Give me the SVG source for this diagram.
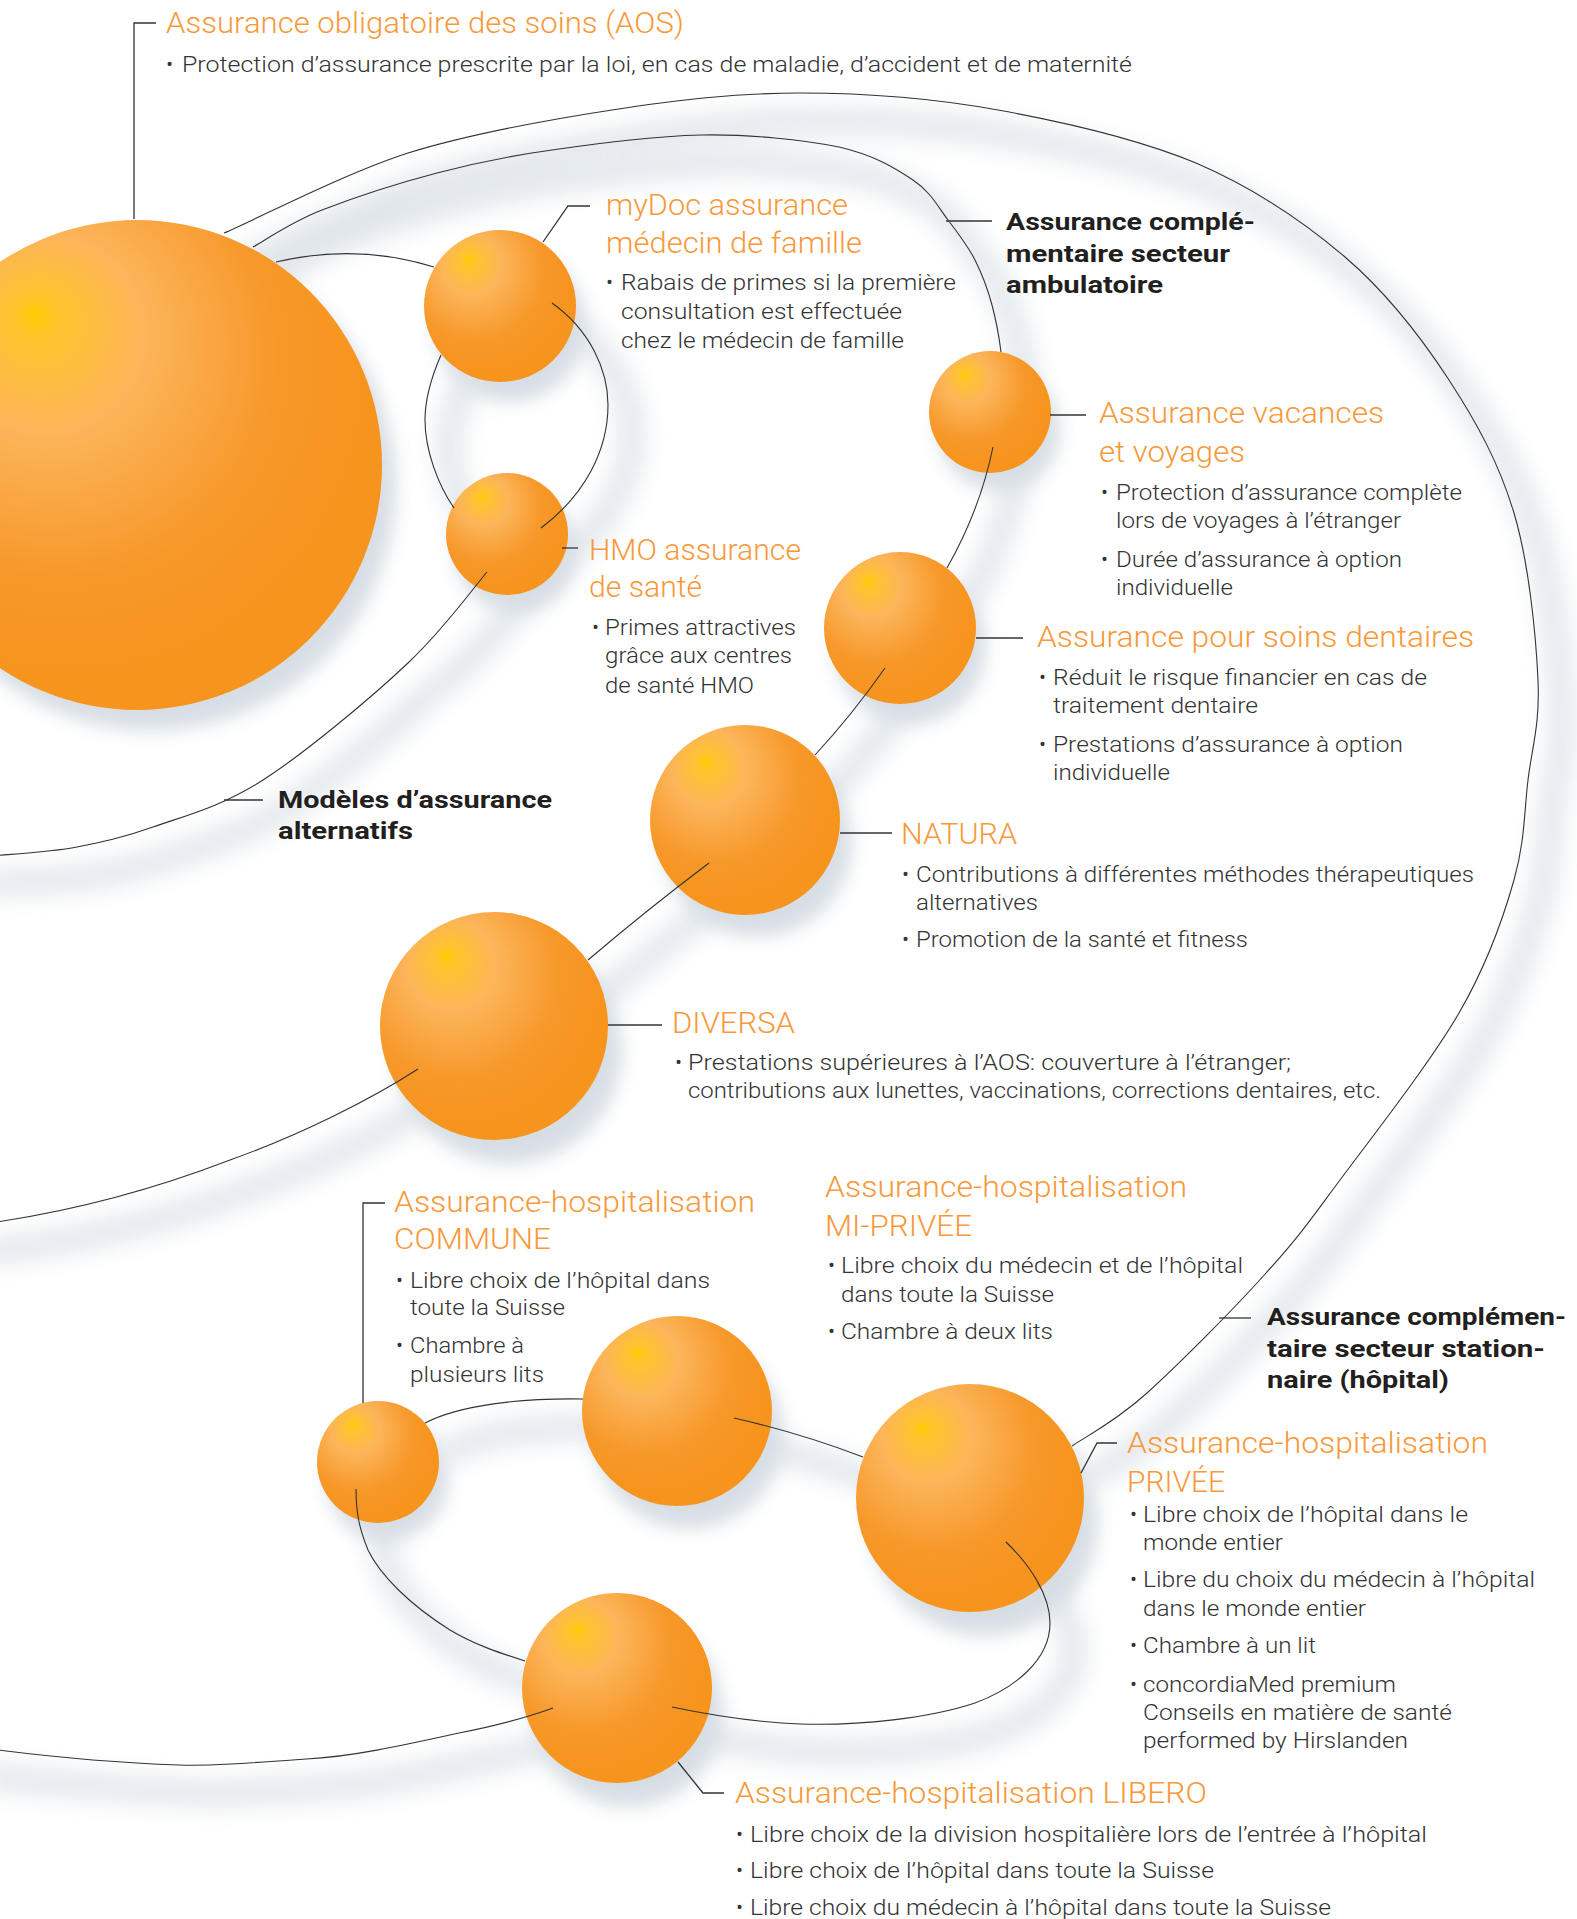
<svg xmlns="http://www.w3.org/2000/svg" width="1577" height="1919" viewBox="0 0 1577 1919">
<defs>
<radialGradient id="ball" cx="0.36" cy="0.32" r="0.62" fx="0.29" fy="0.19">
<stop offset="0" stop-color="#ffcc00"/>
<stop offset="0.07" stop-color="#fec42c"/>
<stop offset="0.32" stop-color="#fcb55a"/>
<stop offset="0.72" stop-color="#f7982a"/>
<stop offset="1" stop-color="#f7941d"/>
</radialGradient>
<filter id="sb" filterUnits="userSpaceOnUse" x="-200" y="-200" width="2000" height="2400"><feGaussianBlur stdDeviation="12"/></filter>
<filter id="sb2" filterUnits="userSpaceOnUse" x="-200" y="-200" width="2000" height="2400"><feGaussianBlur stdDeviation="9"/></filter>
<style>
.t{font-family:Roboto,"Liberation Sans",sans-serif;font-weight:300;font-size:30px;fill:#f7993a}
.b{font-family:Roboto,"Liberation Sans",sans-serif;font-weight:300;font-size:21.5px;fill:#333}
.k{font-family:Roboto,"Liberation Sans",sans-serif;font-weight:700;font-size:24px;fill:#231f20}
.ln{fill:none;stroke:#333;stroke-width:1.1}
.ld{fill:none;stroke:#333;stroke-width:1.3}
.sh{fill:none;stroke:#d5dde4;stroke-width:24;stroke-linecap:round}
.bs{fill:#c9d3dc}
.o{fill:url(#ball)}
</style>
</defs>
<rect width="1577" height="1919" fill="#fff"/>

<g id="shadows" opacity="0.75">
<g filter="url(#sb)" transform="translate(24,28)">
<path class="sh" d="M224,233 C255,220 343,174 408,153 C473,133 547,120 612,110 C677,100 736,93 800,93 C864,93 932,98 998,110 C1064,122 1138,139 1196,163 C1254,188 1303,221 1345,257 C1387,293 1421,337 1449,380 C1477,423 1499,463 1514,513 C1529,563 1536,636 1538,680 C1540,725 1532,747 1528,780 C1524,813 1525,841 1514,880 C1503,919 1488,963 1459,1013 C1430,1063 1372,1137 1340,1180 C1308,1223 1298,1238 1266,1273 C1234,1309 1179,1364 1147,1393 C1115,1422 1085,1437 1072,1446"/>
<path class="sh" d="M253,247 C264,241 291,222 322,210 C353,198 399,183 437,173 C475,163 508,156 552,150 C596,144 653,136 701,135 C749,134 804,140 839,147 C874,155 895,168 913,180 C931,192 938,207 948,220 C958,233 968,246 975,260 C982,274 988,290 992,305 C996,320 1000,344 1001,352"/>
<path class="sh" d="M441,355 C431,378 425,400 425,420 C425,450 438,485 454,508 M552,303 C590,330 608,370 608,405 C608,450 585,495 541,528"/>
<path class="sh" d="M520,540 C480,600 440,640 408,663 C371,698 305,753 263,780 C221,807 184,816 153,827 C122,838 102,842 77,847 C52,852 13,854 -30,856"/>
<path class="sh" d="M993,447 Q980,510 947,568 L885,668 Q852,715 815,755 L709,863 Q648,909 588,960 L418,1069 C370,1100 300,1135 230,1160 C160,1187 80,1210 -30,1223"/>
<path class="sh" d="M356,1489 C356,1515 360,1530 368,1550 C380,1575 410,1605 450,1630 C475,1645 500,1653 525,1661"/>
<path class="sh" d="M425,1423 C460,1405 520,1398 583,1399 L734,1418 Q800,1433 863,1457 L1006,1542 C1030,1565 1050,1595 1050,1623 C1050,1660 1015,1688 975,1703 C930,1718 860,1726 800,1724 C750,1722 710,1715 672,1707 L553,1708 C520,1720 490,1727 459,1733 C400,1746 350,1757 306,1759 C250,1763 210,1766 179,1765 C120,1763 60,1758 -30,1749"/>
</g>
<g filter="url(#sb2)">
<circle class="bs" cx="151" cy="486" r="245"/>
<circle class="bs" cx="510" cy="326" r="76"/>
<circle class="bs" cx="516" cy="552" r="61"/>
<circle class="bs" cx="999" cy="430" r="61"/>
<circle class="bs" cx="910" cy="648" r="76"/>
<circle class="bs" cx="757" cy="842" r="95"/>
<circle class="bs" cx="508" cy="1050" r="114"/>
<circle class="bs" cx="387" cy="1480" r="61"/>
<circle class="bs" cx="688" cy="1434" r="95"/>
<circle class="bs" cx="984" cy="1522" r="114"/>
<circle class="bs" cx="628" cy="1712" r="95"/>
</g>
</g>

<g id="balls">
<circle id="ball-aos" class="o" cx="137" cy="465" r="245"/>
<circle id="ball-mydoc" class="o" cx="500" cy="306" r="76"/>
<circle id="ball-hmo" class="o" cx="507" cy="534" r="61"/>
<circle id="ball-vacances" class="o" cx="990" cy="412" r="61"/>
<circle id="ball-dentaires" class="o" cx="900" cy="628" r="76"/>
<circle id="ball-natura" class="o" cx="745" cy="820" r="95"/>
<circle id="ball-diversa" class="o" cx="494" cy="1026" r="114"/>
<circle id="ball-commune" class="o" cx="378" cy="1462" r="61"/>
<circle id="ball-miprivee" class="o" cx="677" cy="1411" r="95"/>
<circle id="ball-privee" class="o" cx="970" cy="1498" r="114"/>
<circle id="ball-libero" class="o" cx="617" cy="1688" r="95"/>
</g>

<g id="connectors">
<path class="ln" d="M224,233 C255,220 343,174 408,153 C473,133 547,120 612,110 C677,100 736,93 800,93 C864,93 932,98 998,110 C1064,122 1138,139 1196,163 C1254,188 1303,221 1345,257 C1387,293 1421,337 1449,380 C1477,423 1499,463 1514,513 C1529,563 1536,636 1538,680 C1540,725 1532,747 1528,780 C1524,813 1525,841 1514,880 C1503,919 1488,963 1459,1013 C1430,1063 1372,1137 1340,1180 C1308,1223 1298,1238 1266,1273 C1234,1309 1179,1364 1147,1393 C1115,1422 1085,1437 1072,1446"/>
<path class="ln" d="M253,247 C264,241 291,222 322,210 C353,198 399,183 437,173 C475,163 508,156 552,150 C596,144 653,136 701,135 C749,134 804,140 839,147 C874,155 895,168 913,180 C931,192 938,207 948,220 C958,233 968,246 975,260 C982,274 988,290 992,305 C996,320 1000,344 1001,352"/>
<path class="ln" d="M276,262 Q357,243 434,267"/>
<path class="ln" d="M441,355 C431,378 425,400 425,420 C425,450 438,485 454,508"/>
<path class="ln" d="M552,303 C590,330 608,370 608,405 C608,450 585,495 541,528"/>
<path class="ln" d="M487,572 C474,587 445,628 408,663 C371,698 305,753 263,780 C221,807 184,816 153,827 C122,838 102,842 77,847 C52,852 13,854 -10,856"/>
<path class="ln" d="M993,447 Q980,510 947,568"/>
<path class="ln" d="M885,668 Q852,715 815,755"/>
<path class="ln" d="M709,863 Q648,909 588,960"/>
<path class="ln" d="M418,1069 C370,1100 300,1135 230,1160 C160,1187 80,1210 -10,1223"/>
<path class="ln" d="M425,1423 C460,1405 520,1398 583,1399"/>
<path class="ln" d="M734,1418 Q800,1433 863,1457"/>
<path class="ln" d="M1006,1542 C1030,1565 1050,1595 1050,1623 C1050,1660 1015,1688 975,1703 C930,1718 860,1726 800,1724 C750,1722 710,1715 672,1707"/>
<path class="ln" d="M553,1708 C520,1720 490,1727 459,1733 C400,1746 350,1757 306,1759 C250,1763 210,1766 179,1765 C120,1763 60,1758 -10,1749"/>
<path class="ln" d="M356,1489 C356,1515 360,1530 368,1550 C380,1575 410,1605 450,1630 C475,1645 500,1653 525,1661"/>
<path class="ld" d="M156,23 H134 V219"/>
<path class="ld" d="M543,242 L568,206 H590"/>
<path class="ld" d="M562,548 H578"/>
<path class="ld" d="M1050,415 H1086"/>
<path class="ld" d="M976,638 H1023"/>
<path class="ld" d="M840,833 H892"/>
<path class="ld" d="M608,1025 H662"/>
<path class="ld" d="M385,1203 H363 V1403"/>
<path class="ld" d="M1219,1318 H1251"/>
<path class="ld" d="M1081,1473 L1097,1443 H1117"/>
<path class="ld" d="M678,1762 L703,1793 H724"/>
<path class="ld" d="M946,221 H992"/>
<path class="ld" d="M224,800 H263"/>
</g>

<g id="node-aos">
<text class="t" x="166" y="33" textLength="518" lengthAdjust="spacingAndGlyphs">Assurance obligatoire des soins (AOS)</text>
<text class="b" x="166" y="72" style="font-size:22px">•</text>
<text class="b" x="182" y="72" style="font-size:22px" textLength="950" lengthAdjust="spacingAndGlyphs">Protection d’assurance prescrite par la loi, en cas de maladie, d’accident et de maternité</text>
</g>

<g id="node-mydoc">
<text class="t" x="606" y="215" textLength="242" lengthAdjust="spacingAndGlyphs">myDoc assurance</text>
<text class="t" x="606" y="253" textLength="256" lengthAdjust="spacingAndGlyphs">médecin de famille</text>
<text class="b" x="606" y="290">•</text>
<text class="b" x="621" y="290" textLength="335" lengthAdjust="spacingAndGlyphs">Rabais de primes si la première</text>
<text class="b" x="621" y="319" textLength="281" lengthAdjust="spacingAndGlyphs">consultation est effectuée</text>
<text class="b" x="621" y="348" textLength="283" lengthAdjust="spacingAndGlyphs">chez le médecin de famille</text>
</g>

<g id="label-ambulatoire">
<text class="k" x="1006" y="230" textLength="249" lengthAdjust="spacingAndGlyphs">Assurance complé-</text>
<text class="k" x="1006" y="262" textLength="224" lengthAdjust="spacingAndGlyphs">mentaire secteur</text>
<text class="k" x="1006" y="293" textLength="157" lengthAdjust="spacingAndGlyphs">ambulatoire</text>
</g>

<g id="node-hmo">
<text class="t" x="589" y="560" textLength="212" lengthAdjust="spacingAndGlyphs">HMO assurance</text>
<text class="t" x="589" y="597" textLength="113" lengthAdjust="spacingAndGlyphs">de santé</text>
<text class="b" x="592" y="635">•</text>
<text class="b" x="605" y="635" textLength="191" lengthAdjust="spacingAndGlyphs">Primes attractives</text>
<text class="b" x="605" y="663" textLength="187" lengthAdjust="spacingAndGlyphs">grâce aux centres</text>
<text class="b" x="605" y="693" textLength="149" lengthAdjust="spacingAndGlyphs">de santé HMO</text>
</g>

<g id="node-vacances">
<text class="t" x="1099" y="423" textLength="285" lengthAdjust="spacingAndGlyphs">Assurance vacances</text>
<text class="t" x="1099" y="462" textLength="146" lengthAdjust="spacingAndGlyphs">et voyages</text>
<text class="b" x="1101" y="500">•</text>
<text class="b" x="1116" y="500" textLength="346" lengthAdjust="spacingAndGlyphs">Protection d’assurance complète</text>
<text class="b" x="1116" y="528" textLength="285" lengthAdjust="spacingAndGlyphs">lors de voyages à l’étranger</text>
<text class="b" x="1101" y="567">•</text>
<text class="b" x="1116" y="567" textLength="286" lengthAdjust="spacingAndGlyphs">Durée d’assurance à option</text>
<text class="b" x="1116" y="595" textLength="117" lengthAdjust="spacingAndGlyphs">individuelle</text>
</g>

<g id="node-dentaires">
<text class="t" x="1037" y="647" textLength="437" lengthAdjust="spacingAndGlyphs">Assurance pour soins dentaires</text>
<text class="b" x="1039" y="685">•</text>
<text class="b" x="1053" y="685" textLength="374" lengthAdjust="spacingAndGlyphs">Réduit le risque financier en cas de</text>
<text class="b" x="1053" y="713" textLength="205" lengthAdjust="spacingAndGlyphs">traitement dentaire</text>
<text class="b" x="1039" y="752">•</text>
<text class="b" x="1053" y="752" textLength="350" lengthAdjust="spacingAndGlyphs">Prestations d’assurance à option</text>
<text class="b" x="1053" y="780" textLength="117" lengthAdjust="spacingAndGlyphs">individuelle</text>
</g>

<g id="label-alternatifs">
<text class="k" x="278" y="808" textLength="274" lengthAdjust="spacingAndGlyphs">Modèles d’assurance</text>
<text class="k" x="278" y="839" textLength="135" lengthAdjust="spacingAndGlyphs">alternatifs</text>
</g>

<g id="node-natura">
<text class="t" x="901" y="844" textLength="116" lengthAdjust="spacingAndGlyphs">NATURA</text>
<text class="b" x="902" y="882">•</text>
<text class="b" x="916" y="882" textLength="558" lengthAdjust="spacingAndGlyphs">Contributions à différentes méthodes thérapeutiques</text>
<text class="b" x="916" y="910" textLength="122" lengthAdjust="spacingAndGlyphs">alternatives</text>
<text class="b" x="902" y="947">•</text>
<text class="b" x="916" y="947" textLength="332" lengthAdjust="spacingAndGlyphs">Promotion de la santé et fitness</text>
</g>

<g id="node-diversa">
<text class="t" x="672" y="1033" textLength="123" lengthAdjust="spacingAndGlyphs">DIVERSA</text>
<text class="b" x="675" y="1070">•</text>
<text class="b" x="688" y="1070" textLength="603" lengthAdjust="spacingAndGlyphs">Prestations supérieures à l’AOS: couverture à l’étranger;</text>
<text class="b" x="688" y="1098" textLength="693" lengthAdjust="spacingAndGlyphs">contributions aux lunettes, vaccinations, corrections dentaires, etc.</text>
</g>

<g id="node-commune">
<text class="t" x="394" y="1212" textLength="361" lengthAdjust="spacingAndGlyphs">Assurance-hospitalisation</text>
<text class="t" x="394" y="1249" textLength="157" lengthAdjust="spacingAndGlyphs">COMMUNE</text>
<text class="b" x="396" y="1288">•</text>
<text class="b" x="410" y="1288" textLength="300" lengthAdjust="spacingAndGlyphs">Libre choix de l’hôpital dans</text>
<text class="b" x="410" y="1315" textLength="155" lengthAdjust="spacingAndGlyphs">toute la Suisse</text>
<text class="b" x="396" y="1353">•</text>
<text class="b" x="410" y="1353" textLength="114" lengthAdjust="spacingAndGlyphs">Chambre à</text>
<text class="b" x="410" y="1382" textLength="134" lengthAdjust="spacingAndGlyphs">plusieurs lits</text>
</g>

<g id="node-miprivee">
<text class="t" x="825" y="1197" textLength="362" lengthAdjust="spacingAndGlyphs">Assurance-hospitalisation</text>
<text class="t" x="825" y="1236" textLength="147" lengthAdjust="spacingAndGlyphs">MI-PRIVÉE</text>
<text class="b" x="828" y="1273">•</text>
<text class="b" x="841" y="1273" textLength="402" lengthAdjust="spacingAndGlyphs">Libre choix du médecin et de l’hôpital</text>
<text class="b" x="841" y="1302" textLength="213" lengthAdjust="spacingAndGlyphs">dans toute la Suisse</text>
<text class="b" x="828" y="1339">•</text>
<text class="b" x="841" y="1339" textLength="212" lengthAdjust="spacingAndGlyphs">Chambre à deux lits</text>
</g>

<g id="label-stationnaire">
<text class="k" x="1267" y="1325" textLength="299" lengthAdjust="spacingAndGlyphs">Assurance complémen-</text>
<text class="k" x="1267" y="1357" textLength="278" lengthAdjust="spacingAndGlyphs">taire secteur station-</text>
<text class="k" x="1267" y="1388" textLength="182" lengthAdjust="spacingAndGlyphs">naire (hôpital)</text>
</g>

<g id="node-privee">
<text class="t" x="1127" y="1453" textLength="361" lengthAdjust="spacingAndGlyphs">Assurance-hospitalisation</text>
<text class="t" x="1127" y="1492" textLength="98" lengthAdjust="spacingAndGlyphs">PRIVÉE</text>
<text class="b" x="1130" y="1522">•</text>
<text class="b" x="1143" y="1522" textLength="325" lengthAdjust="spacingAndGlyphs">Libre choix de l’hôpital dans le</text>
<text class="b" x="1143" y="1550" textLength="140" lengthAdjust="spacingAndGlyphs">monde entier</text>
<text class="b" x="1130" y="1587">•</text>
<text class="b" x="1143" y="1587" textLength="392" lengthAdjust="spacingAndGlyphs">Libre du choix du médecin à l’hôpital</text>
<text class="b" x="1143" y="1616" textLength="223" lengthAdjust="spacingAndGlyphs">dans le monde entier</text>
<text class="b" x="1130" y="1653">•</text>
<text class="b" x="1143" y="1653" textLength="173" lengthAdjust="spacingAndGlyphs">Chambre à un lit</text>
<text class="b" x="1130" y="1692">•</text>
<text class="b" x="1143" y="1692" textLength="253" lengthAdjust="spacingAndGlyphs">concordiaMed premium</text>
<text class="b" x="1143" y="1720" textLength="309" lengthAdjust="spacingAndGlyphs">Conseils en matière de santé</text>
<text class="b" x="1143" y="1748" textLength="265" lengthAdjust="spacingAndGlyphs">performed by Hirslanden</text>
</g>

<g id="node-libero">
<text class="t" x="735" y="1803" textLength="472" lengthAdjust="spacingAndGlyphs">Assurance-hospitalisation LIBERO</text>
<text class="b" x="736" y="1842">•</text>
<text class="b" x="750" y="1842" textLength="677" lengthAdjust="spacingAndGlyphs">Libre choix de la division hospitalière lors de l’entrée à l’hôpital</text>
<text class="b" x="736" y="1878">•</text>
<text class="b" x="750" y="1878" textLength="464" lengthAdjust="spacingAndGlyphs">Libre choix de l’hôpital dans toute la Suisse</text>
<text class="b" x="736" y="1915">•</text>
<text class="b" x="750" y="1915" textLength="581" lengthAdjust="spacingAndGlyphs">Libre choix du médecin à l’hôpital dans toute la Suisse</text>
</g>
</svg>
